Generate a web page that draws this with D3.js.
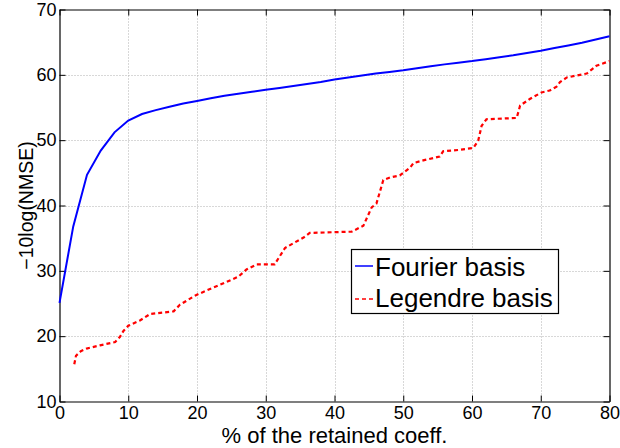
<!DOCTYPE html>
<html>
<head>
<meta charset="utf-8">
<script src="https://cdn.jsdelivr.net/npm/d3@7"></script>
<style>
  html, body { margin: 0; padding: 0; background: #fff; }
  svg { display: block; font-family: "Liberation Sans", Arial, Helvetica, sans-serif; }
</style>
</head>
<body>
<svg id="chart" width="620" height="448"></svg>
<script>
// Percentage of retained coefficients vs. reconstruction quality
const fourierX = [0, 2, 4, 6, 8, 10, 12, 14, 16, 18, 20, 22, 24, 26, 28, 30, 32, 34, 36, 38, 40,
  42, 44, 46, 48, 50, 52, 54, 56, 58, 60, 62, 64, 66, 68, 70, 72, 74, 76, 78, 80];
const fourierY = [25.1, 36.8, 44.7, 48.4, 51.2, 53.0, 54.0, 54.6, 55.1, 55.6, 56.0, 56.4, 56.8, 57.1,
  57.4, 57.7, 58.0, 58.3, 58.6, 58.9, 59.3, 59.6, 59.9, 60.2, 60.45, 60.7, 61.0, 61.3, 61.6, 61.85,
  62.1, 62.4, 62.7, 63.0, 63.35, 63.7, 64.1, 64.5, 64.9, 65.4, 65.9];

const legendreX = [2.15, 2.4, 3.1, 3.95, 5.9, 8.1, 8.8, 9.3, 10.0, 11.7, 13.2, 16.6, 17.5, 19.7,
  21.4, 24.3, 26.0, 27.2, 28.7, 31.3, 32.8, 35.5, 36.4, 42.5, 44.2, 45.4, 46.1, 47.1, 48.1, 49.5,
  51.0, 51.5, 52.9, 55.3, 55.8, 58.0, 60.2, 60.9, 61.4, 62.1, 66.5, 67.0, 68.4, 70.1, 71.3, 72.3,
  72.8, 73.8, 76.7, 77.4, 78.1, 80];
const legendreY = [15.7, 17.0, 17.7, 18.1, 18.6, 19.1, 19.9, 20.8, 21.6, 22.4, 23.4, 23.8, 24.8, 26.2,
  27.0, 28.3, 29.1, 30.2, 31.0, 31.0, 33.5, 35.1, 35.8, 36.0, 36.9, 39.7, 40.3, 43.9, 44.3, 44.6,
  45.8, 46.5, 46.9, 47.5, 48.3, 48.5, 48.8, 49.9, 52.2, 53.2, 53.4, 55.3, 56.3, 57.3, 57.6, 58.2,
  58.9, 59.6, 60.2, 60.8, 61.4, 62.1];

const xTicks = [0, 10, 20, 30, 40, 50, 60, 70, 80];
const yTicks = [10, 20, 30, 40, 50, 60, 70];
const seriesNames = ["Fourier basis", "Legendre basis"];
const xTitle = "% of the retained coeff.";
const yTitle = "\u221210log(NMSE)";

const svg = d3.select("#chart");
const plotLeft = 59.5, plotRight = 609.5, plotTop = 9.5, plotBottom = 401.5;

const x = d3.scaleLinear().domain([0, 80]).range([plotLeft, plotRight]);
const y = d3.scaleLinear().domain([10, 70]).range([plotBottom, plotTop]);

// dotted grid
const grid = svg.append("g").attr("stroke", "#b0b0b0").attr("stroke-width", 1)
  .attr("stroke-dasharray", "1,2");
grid.selectAll("line.v").data(xTicks.slice(1, -1)).join("line").attr("class", "v")
  .attr("x1", d => Math.round(x(d)) + 0.5).attr("x2", d => Math.round(x(d)) + 0.5)
  .attr("y1", plotTop).attr("y2", plotBottom);
grid.selectAll("line.h").data(yTicks.slice(1, -1)).join("line").attr("class", "h")
  .attr("y1", d => Math.round(y(d)) + 0.5).attr("y2", d => Math.round(y(d)) + 0.5)
  .attr("x1", plotLeft).attr("x2", plotRight);

// axes with inward ticks on all four sides
const tickLen = 6;
const fontSize = 18;
const axB = svg.append("g").attr("transform", `translate(0,${plotBottom})`)
  .call(d3.axisBottom(x).tickValues(xTicks).tickSizeInner(-tickLen).tickSizeOuter(0).tickPadding(5));
const axT = svg.append("g").attr("transform", `translate(0,${plotTop})`)
  .call(d3.axisTop(x).tickValues(xTicks).tickSizeInner(-tickLen).tickSizeOuter(0).tickFormat(""));
const axL = svg.append("g").attr("transform", `translate(${plotLeft},0)`)
  .call(d3.axisLeft(y).tickValues(yTicks).tickSizeInner(-tickLen).tickSizeOuter(0).tickPadding(3));
const axR = svg.append("g").attr("transform", `translate(${plotRight},0)`)
  .call(d3.axisRight(y).tickValues(yTicks).tickSizeInner(-tickLen).tickSizeOuter(0).tickFormat(""));
[axB, axT, axL, axR].forEach(a => {
  a.select(".domain").attr("stroke", "#000").attr("stroke-width", 1.2);
  a.selectAll(".tick line").attr("stroke", "#000").attr("stroke-width", 1);
  a.selectAll("text").attr("font-size", fontSize).attr("fill", "#000")
    .attr("font-family", "'Liberation Sans', Arial, sans-serif");
});

// series lines
const line = d3.line().x(d => x(d[0])).y(d => y(d[1]));
svg.append("path")
  .datum(fourierX.map((v, i) => [v, fourierY[i]]))
  .attr("d", line).attr("fill", "none").attr("stroke", "#0000ff").attr("stroke-width", 2);
svg.append("path")
  .datum(legendreX.map((v, i) => [v, legendreY[i]]))
  .attr("d", line).attr("fill", "none").attr("stroke", "#ff0000").attr("stroke-width", 2.2)
  .attr("stroke-dasharray", "4,3");

// axis titles
svg.append("text").attr("x", (plotLeft + plotRight) / 2).attr("y", 443)
  .attr("text-anchor", "middle").attr("font-size", 22).attr("fill", "#000").text(xTitle);
svg.append("text").attr("transform", `translate(33,${(plotTop + plotBottom) / 2}) rotate(-90)`)
  .attr("text-anchor", "middle").attr("font-size", 19.5).attr("fill", "#000").text(yTitle);

// legend
const lg = svg.append("g");
lg.append("rect").attr("x", 351.5).attr("y", 249.5).attr("width", 207).attr("height", 64)
  .attr("fill", "#fff").attr("stroke", "#000").attr("stroke-width", 1.2);
const legendStyles = [
  { color: "#0000ff", dash: null, ly: 266, ty: 276 },
  { color: "#ff0000", dash: "4,3", ly: 299, ty: 307 }
];
seriesNames.forEach((name, i) => {
  const s = legendStyles[i];
  lg.append("line").attr("x1", 355).attr("x2", 373).attr("y1", s.ly).attr("y2", s.ly)
    .attr("stroke", s.color).attr("stroke-width", 1.5)
    .attr("stroke-dasharray", s.dash);
  lg.append("text").attr("x", 375).attr("y", s.ty).attr("font-size", 26).attr("fill", "#000")
    .text(name);
});
</script>
</body>
</html>
